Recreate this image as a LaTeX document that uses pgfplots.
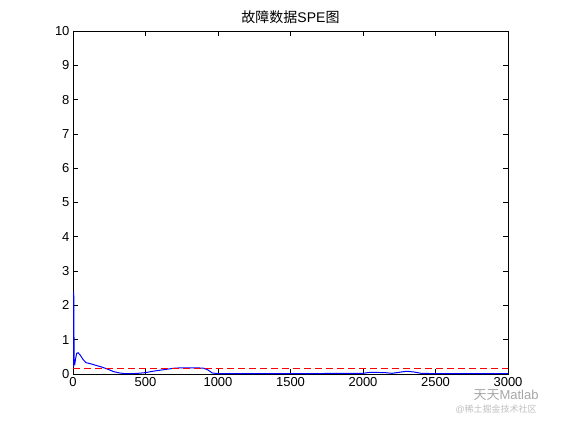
\documentclass[border=0pt]{standalone}
\usepackage{pgfplots}
\pgfplotsset{compat=1.18}
\usepackage{fontspec}
\setmainfont{Liberation Sans}
\newfontfamily\cjk{Noto Sans CJK SC}
\begin{document}
\begin{tikzpicture}[x=1pt,y=1pt]
\useasboundingbox (0,0) rectangle (561,420);
\begin{axis}[
  at={(73pt,46pt)}, anchor=south west,
  width=435pt, height=343pt, scale only axis,
  xmin=0, xmax=3000, ymin=0, ymax=10,
  xtick={0,500,...,3000}, ytick={0,1,...,10},
  tick align=inside, major tick length=5pt,
  xtick pos=both, ytick pos=both,
  /pgf/number format/assume math mode=true,
  /pgf/number format/1000 sep={},
  ticklabel style={font=\fontsize{13}{15}\selectfont},
  title={\cjk 故障数据\normalfont SPE\cjk 图},
  title style={font=\fontsize{14}{16}\selectfont, yshift=-2pt},
  axis line style={black, line width=0.6pt},
  tick style={black, line width=0.6pt},
  clip=false,
]
\addplot[blue, line width=1pt] coordinates {
(4,0.2) (5,2.4) (8,0.3) (12,0.28) (18,0.45) (25,0.6) (35,0.62) (50,0.55) (70,0.42)
(90,0.33) (120,0.3) (160,0.25) (200,0.2) (240,0.14) (280,0.07) (320,0.03)
(360,0.01) (400,0.01) (450,0.02) (500,0.04) (550,0.08) (600,0.11) (650,0.14)
(700,0.17) (750,0.18) (800,0.18) (850,0.18) (900,0.17) (930,0.12) (960,0.03)
(1000,0.01) (1500,0.01) (2000,0.02) (2050,0.05) (2150,0.04) (2200,0.02)
(2250,0.05) (2300,0.08) (2350,0.06) (2400,0.02) (2500,0.01) (3000,0.01)
};
\addplot[red, line width=0.9pt, dash pattern=on 7pt off 4pt] coordinates {(0,0.15) (3000,0.15)};
\end{axis}
\node[anchor=west, gray!70, font=\fontsize{13}{15}\selectfont] at (470,25) {\cjk 天天\normalfont Matlab};
\node[anchor=west, gray!50, font=\fontsize{9}{11}\selectfont] at (452,11) {@\cjk 稀土掘金技术社区};
\end{tikzpicture}
\end{document}
